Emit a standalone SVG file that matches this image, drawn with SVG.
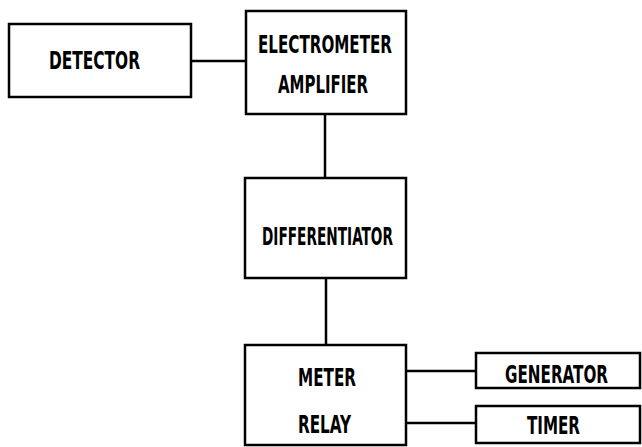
<svg xmlns="http://www.w3.org/2000/svg" width="642" height="447" viewBox="0 0 642 447">
<style>
.box{fill:none;stroke:#000;stroke-width:2.5}
.ln{fill:none;stroke:#000;stroke-width:2.5}
.t{font-family:"DejaVu Sans Condensed","DejaVu Sans",sans-serif;font-weight:bold;font-size:25px;fill:#000}
</style>
<rect width="642" height="447" fill="#fff"/>
<g id="connectors">
<line class="ln" x1="191" y1="61" x2="246" y2="61"/>
<line class="ln" x1="325" y1="114" x2="325" y2="178"/>
<line class="ln" x1="326" y1="278" x2="326" y2="345"/>
<line class="ln" x1="406" y1="371" x2="476" y2="371"/>
<line class="ln" x1="406" y1="423" x2="476" y2="423"/>
</g>
<g id="detector">
<rect class="box" x="9" y="24" width="182" height="73"/>
<text class="t" x="49" y="69" textLength="91" lengthAdjust="spacingAndGlyphs">DETECTOR</text>
</g>
<g id="electrometer-amplifier">
<rect class="box" x="246" y="11" width="160" height="103"/>
<text class="t" x="258" y="53" textLength="134" lengthAdjust="spacingAndGlyphs">ELECTROMETER</text>
<text class="t" x="278" y="93" textLength="90" lengthAdjust="spacingAndGlyphs">AMPLIFIER</text>
</g>
<g id="differentiator">
<rect class="box" x="245" y="178" width="161" height="100"/>
<text class="t" x="262" y="245" textLength="131" lengthAdjust="spacingAndGlyphs">DIFFERENTIATOR</text>
</g>
<g id="meter-relay">
<rect class="box" x="245" y="345" width="161" height="100"/>
<text class="t" x="298" y="386" textLength="58" lengthAdjust="spacingAndGlyphs">METER</text>
<text class="t" x="298" y="433" textLength="53" lengthAdjust="spacingAndGlyphs">RELAY</text>
</g>
<g id="generator">
<rect class="box" x="476" y="353" width="164" height="35"/>
<text class="t" x="505" y="383" textLength="103" lengthAdjust="spacingAndGlyphs">GENERATOR</text>
</g>
<g id="timer">
<rect class="box" x="476" y="406" width="164" height="37"/>
<text class="t" x="527" y="434" textLength="53" lengthAdjust="spacingAndGlyphs">TIMER</text>
</g>
</svg>
